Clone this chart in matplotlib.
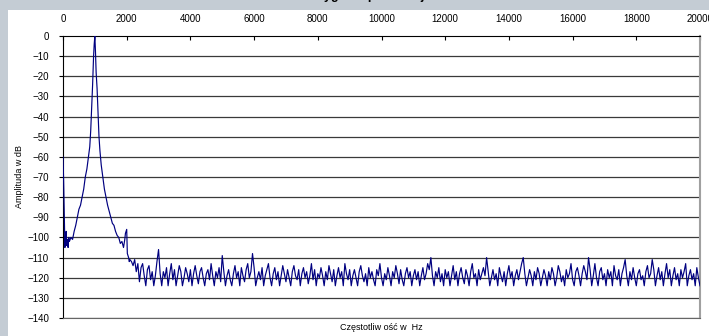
import numpy as np
import matplotlib
matplotlib.use("Agg")
import matplotlib.pyplot as plt
from matplotlib.patches import Rectangle

plt.rcParams['font.family'] = ['Liberation Sans', 'DejaVu Sans']

### main peak region (Hz, dB) ###
freq_peak = [0, 20, 40, 60, 80, 100, 120, 140, 160, 180, 200, 250, 300, 350, 400,
             450, 500, 550, 600, 650, 700, 750, 800, 840, 870, 900, 930, 960, 980,
             1000, 1020, 1040, 1070, 1100, 1130, 1160, 1200, 1250, 1300, 1350, 1400,
             1450, 1500, 1550, 1600, 1650, 1700, 1750, 1800, 1850, 1900, 1940, 1960,
             1980, 2000, 2020, 2040, 2060, 2080, 2100]
amp_peak = [-60, -72, -88, -105, -99, -97, -104, -101, -105, -100, -102, -100, -101, -97, -94,
            -90, -86, -84, -80, -76, -70, -66, -60, -55, -47, -36, -24, -10, -4,
            0, -8, -18, -26, -38, -50, -57, -64, -70, -76, -80, -84,
            -87, -90, -93, -94, -97, -99, -100, -103, -102, -105, -101, -98,
            -97, -96, -108, -109, -110, -112, -111]

### noise floor 2150 .. 20000 Hz ###
noise_db = [
    -112, -114, -111, -117, -113, -122, -115, -113, -119, -124, -116, -114, -121, -117, -124, -119, -112, -106, -118, -124,
    -117, -120, -115, -124, -118, -113, -121, -116, -124, -119, -114, -117, -124, -120, -115, -118, -122, -116, -124, -118,
    -114, -119, -123, -117, -115, -120, -124, -118, -116, -121, -113, -119, -124, -117, -120, -115, -122, -109, -117, -124,
    -119, -116, -121, -124, -118, -114, -120, -117, -124, -115, -119, -122, -116, -113, -120, -117, -108, -115, -124, -120,
    -117, -121, -115, -124, -119, -116, -113, -120, -124, -118, -115, -121, -117, -124, -119, -114, -118, -122, -116, -120,
    -124, -117, -114, -119, -121, -116, -124, -118, -115, -120, -117, -123, -119, -113, -121, -116, -124, -118, -120, -115,
    -119, -124, -117, -121, -114, -118, -122, -116, -124, -119, -115, -120, -117, -124, -113, -118, -121, -116, -124, -119,
    -116, -120, -124, -117, -114, -119, -122, -118, -124, -115, -120, -117, -121, -124, -116, -119, -113, -120, -124, -118,
    -121, -115, -119, -124, -117, -120, -114, -118, -123, -116, -121, -124, -118, -115, -120, -117, -124, -119, -116, -121,
    -117, -124, -119, -115, -121, -118, -113, -116, -110, -119, -124, -117, -120, -115, -122, -118, -124, -116, -120, -117,
    -124, -119, -114, -121, -117, -124, -118, -115, -120, -123, -116, -119, -124, -117, -113, -120, -118, -124, -116, -121,
    -118, -115, -119, -110, -117, -124, -120, -116, -121, -118, -124, -115, -119, -122, -117, -124, -118, -114, -120, -117,
    -124, -119, -116, -121, -117, -113, -110, -118, -124, -120, -116, -119, -124, -117, -121, -115, -118, -124, -120, -116,
    -119, -124, -117, -121, -115, -118, -124, -120, -114, -117, -122, -119, -124, -116, -120, -118, -113, -121, -124, -117,
    -115, -119, -124, -118, -114, -117, -121, -110, -116, -124, -119, -113, -120, -124, -117, -115, -121, -118, -124, -116,
    -120, -117, -124, -114, -119, -121, -116, -124, -118, -115, -111, -119, -124, -117, -121, -115, -120, -124, -118, -116,
    -121, -119, -124, -117, -114, -120, -118, -111, -116, -124, -119, -115, -121, -117, -124, -118, -113, -120, -116, -124,
    -119, -115, -121, -118, -124, -116, -120, -117, -113, -124, -119, -116, -121, -118, -124, -115, -120, -124,
]
freq_noise = np.linspace(2150, 20000, len(noise_db))

freq = np.concatenate([freq_peak, freq_noise])
amp = np.concatenate([amp_peak, noise_db])

y_ticks = list(range(0, -150, -10))
x_ticks = list(range(0, 20001, 2000))

fig = plt.figure(figsize=(7.09, 3.36), dpi=100)
fig.patch.set_facecolor('#c4ccd4')
# white chart panel behind everything
bg = fig.add_axes([0, 0, 1, 1], zorder=-5)
bg.axis('off')
bg.add_patch(Rectangle((8 / 709, 0), 1, 1 - 10 / 336, transform=bg.transAxes,
                       facecolor='white', edgecolor='none'))

ax = fig.add_axes([63 / 709, 1 - 318 / 336, (700 - 63) / 709, (318 - 36) / 336], zorder=2)
ax.set_facecolor('white')

for v in y_ticks[1:]:
    ax.axhline(v, color='#3a3a3a', lw=0.9, zorder=1)

ax.plot(freq, amp, color='#000080', lw=0.85, zorder=3)

ax.set_xlim(0, 20000)
ax.set_ylim(-140, 0)
ax.xaxis.tick_top()
ax.set_xticks(x_ticks)
ax.set_yticks(y_ticks)
ax.tick_params(axis='x', direction='in', length=3, pad=9, labelsize=7, color='black')
ax.tick_params(axis='y', direction='out', length=3, pad=7, labelsize=7, color='black')

ax.spines['left'].set_color('black')
ax.spines['top'].set_color('black')
ax.spines['right'].set_color('#a0a0a0')
ax.spines['right'].set_linewidth(1.5)
ax.spines['bottom'].set_color('#666666')

fig.text(20 / 709, 1 - 177 / 336, 'Amplituda w dB', rotation=90, ha='center', va='center', fontsize=6.5)
fig.text(381 / 709, 1 - 328 / 336, 'Częstotliw ość w  Hz', ha='center', va='center', fontsize=6.5)
# title is mostly cut off at the top edge, as in the original
fig.text(350 / 709, 1 + 0.5 / 336, 'Widmo sygnału po filtracji', ha='center', va='baseline',
         fontsize=9, fontweight='bold')

fig.savefig('out.png', dpi=100, facecolor=fig.get_facecolor())
